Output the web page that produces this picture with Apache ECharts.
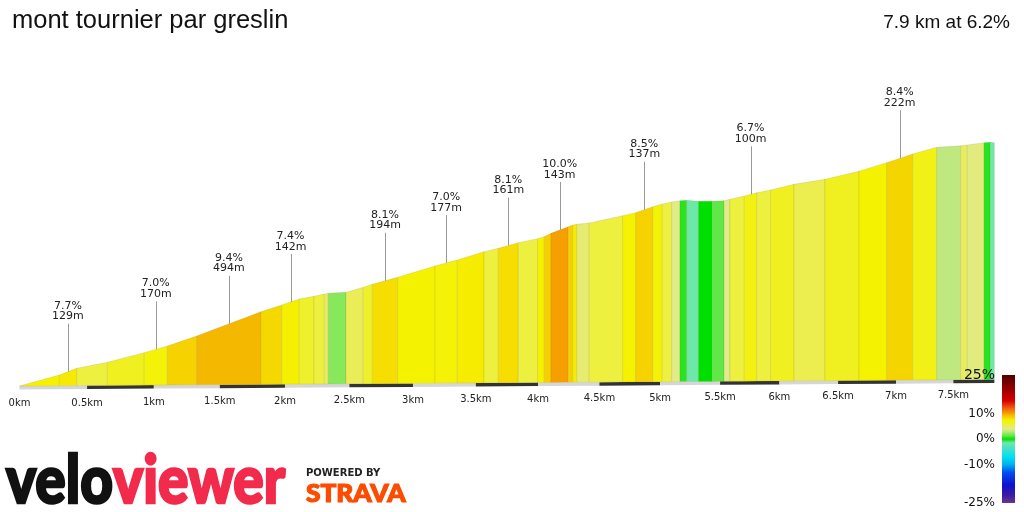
<!DOCTYPE html>
<html>
<head>
<meta charset="utf-8">
<script src="https://cdn.jsdelivr.net/npm/echarts@6/dist/echarts.min.js"></script>
<style>
html,body{margin:0;padding:0;background:#fff}
#chart{width:1024px;height:512px}
</style>
</head>
<body>
<div id="chart"></div>
<script>
// distance along the climb (km) and height above the start (m)
var distKm = [0, 0.294, 0.423, 0.651, 0.928, 1.102, 1.324, 1.815, 1.975, 2.111, 2.225, 2.305, 2.336, 2.474, 2.609, 2.680, 2.879, 3.174, 3.352, 3.565, 3.680, 3.841, 3.998, 4.051, 4.105, 4.246, 4.282, 4.315, 4.417, 4.691, 4.798, 4.939, 5.018, 5.096, 5.165, 5.221, 5.319, 5.435, 5.533, 5.583, 5.703, 5.808, 5.926, 6.124, 6.388, 6.680, 6.919, 7.145, 7.354, 7.564, 7.623, 7.770, 7.823, 7.861];
var elevM = [0, 20.1, 32.5, 43.5, 61.3, 73.8, 92.6, 138.7, 151.5, 163.0, 168.2, 172.6, 174.0, 176.0, 185.6, 191.5, 205.1, 227.3, 239.1, 255.5, 262.3, 273.5, 281.6, 285.6, 292.3, 305.5, 309.0, 310.4, 313.2, 328.1, 334.3, 346.5, 352.0, 356.2, 358.9, 359.9, 358.1, 358.6, 359.9, 362.8, 369.7, 376.6, 382.3, 394.3, 405.1, 422.4, 440.4, 458.8, 473.2, 477.2, 478.9, 484.2, 485.2, 484.5];
// gradient of each section (%)
var gradePct = [7.2, 7.7, 5.5, 6.3, 7.0, 8.5, 9.4, 8.3, 7.4, 6.0, 5.5, 4.8, 2.0, 5.0, 6.0, 8.1, 7.2, 7.0, 7.6, 5.5, 8.1, 5.5, 7.2, 8.6, 10.0, 8.6, 7.6, 4.5, 5.5, 7.2, 8.5, 7.0, 5.5, 4.0, 0.5, -1.5, 0.0, 1.2, 4.0, 5.5, 6.7, 5.5, 6.3, 5.2, 6.3, 7.2, 8.4, 6.6, 3.0, 4.8, 4.2, 0.5, -1.5];

// annotated sections
var noteKm = [0.358, 1.015, 1.570, 2.043, 2.780, 3.263, 3.760, 4.176, 4.869, 5.756, 7.032];
var noteGrade = [7.7, 7.0, 9.4, 7.4, 8.1, 7.0, 8.1, 10.0, 8.5, 6.7, 8.4];
var noteLenM = [129, 170, 494, 142, 194, 177, 161, 143, 137, 100, 222];

var tickKm = [0, 0.5, 1, 1.5, 2, 2.5, 3, 3.5, 4, 4.5, 5, 5.5, 6, 6.5, 7, 7.5];
var legendTicks = [25, 10, 0, -10, -25];

// colour scale for gradients
var gradeStops = [[-25,'#6b3590'],[-22,'#3a1ca0'],[-18,'#1010d0'],[-13,'#0050f0'],[-10,'#00b0f0'],[-7,'#00e0f0'],[-4,'#40e0d0'],[-1.5,'#6ee8a8'],[0,'#00e000'],[1.2,'#60e848'],[2,'#88e85c'],[3,'#c0e880'],[4,'#e0ec88'],[4.8,'#e8ec60'],[5.5,'#eef040'],[6.3,'#f0f020'],[7.2,'#f5f200'],[7.7,'#f5ea00'],[8.1,'#f5de00'],[8.5,'#f5d200'],[9.4,'#f5b800'],[10,'#f5a000'],[12,'#f06010'],[15,'#d80000'],[19,'#a00000'],[25,'#500000']];

// slight perspective of the 3d view
var K = 0.0123;
var PX_PER_UNIT = 136;
var TILT = 0.907;
function projX(d) { return d / (1 + K * d); }
function projE(d, e) { return e / (1 + K * d); }

function hex(c) { return [parseInt(c.substr(1,2),16), parseInt(c.substr(3,2),16), parseInt(c.substr(5,2),16)]; }
function gradeColor(g) {
    if (g <= gradeStops[0][0]) return gradeStops[0][1];
    for (var i = 1; i < gradeStops.length; i++) {
        if (g <= gradeStops[i][0]) {
            var a = gradeStops[i-1], b = gradeStops[i];
            var t = (g - a[0]) / (b[0] - a[0]);
            var ca = hex(a[1]), cb = hex(b[1]);
            return 'rgb(' + [0,1,2].map(function (k) { return Math.round(ca[k] + (cb[k]-ca[k]) * t); }).join(',') + ')';
        }
    }
    return gradeStops[gradeStops.length-1][1];
}
function elevAt(d) {
    for (var i = 1; i < distKm.length; i++) {
        if (d <= distKm[i]) {
            var t = (d - distKm[i-1]) / (distKm[i] - distKm[i-1]);
            return elevM[i-1] + (elevM[i] - elevM[i-1]) * t;
        }
    }
    return elevM[elevM.length-1];
}

var endKm = distKm[distKm.length-1];
var xMax = projX(endKm);

var segData = gradePct.map(function (g, i) {
    var d0 = distKm[i], d1 = distKm[i+1];
    return [projX(d0), projE(d0, elevM[i]), projX(d1), projE(d1, elevM[i+1]), g];
});
var stripData = [];
for (var s = 0; s * 0.5 < endKm; s++) {
    stripData.push([projX(s * 0.5), projX(Math.min(endKm, s * 0.5 + 0.5)), s % 2]);
}
var noteData = noteKm.map(function (d, i) {
    return [projX(d), projE(d, elevAt(d)), noteGrade[i], noteLenM[i]];
});
var tickData = tickKm.map(function (k) { return [projX(k), 0, k]; });

function pt(api, u, v) {
    var c = api.coord([u, v]);
    c[1] -= TILT * u;
    return c;
}

var legendGrad = gradeStops.slice().reverse().map(function (st) {
    return {offset: (25 - st[0]) / 50, color: st[1]};
});

var graphics = [
    {type: 'rect', left: 1002, top: 375, z: 10, shape: {width: 13, height: 128},
     style: {fill: new echarts.graphic.LinearGradient(0, 0, 0, 1, legendGrad)}},
    {type: 'text', x: 6, y: 482, scaleX: 0.86, z: 10,
     style: {text: '{a|velo}{b|viewer}', verticalAlign: 'middle',
             rich: {a: {fill: '#111', fontSize: 66, fontWeight: 900, fontFamily: 'Lato', stroke: '#111', lineWidth: 2.5},
                    b: {fill: '#f22a4b', fontSize: 66, fontWeight: 900, fontFamily: 'Lato', stroke: '#f22a4b', lineWidth: 2.5}}}},
    {type: 'text', x: 306, y: 473, z: 10,
     style: {text: 'POWERED BY', fill: '#222', fontSize: 10, fontWeight: 'bold', fontFamily: 'DejaVu Sans', verticalAlign: 'middle'}},
    {type: 'text', x: 306, y: 494, scaleX: 1.05, z: 10,
     style: {text: 'STRAVA', fill: '#fc4c02', fontSize: 25, fontWeight: 900, fontFamily: 'Lato', verticalAlign: 'middle',
             stroke: '#fc4c02', lineWidth: 1.2}}
];
legendTicks.forEach(function (g) {
    graphics.push({type: 'text', x: 995, y: 375 + (25 - g) / 50 * 128, z: 10,
        style: {text: g + '%', align: 'right', verticalAlign: 'middle', fill: '#111',
                fontSize: g === 25 ? 14 : 12, fontFamily: 'DejaVu Sans'}});
});

var chart = echarts.init(document.getElementById('chart'));
chart.setOption({
    animation: false,
    title: [
        {text: 'mont tournier par greslin', left: 7, top: 3,
         textStyle: {fontFamily: 'Liberation Sans', fontSize: 25.5, fontWeight: 'normal', color: '#111'}},
        {text: '7.9 km at 6.2%', right: 9, top: 8,
         textStyle: {fontFamily: 'Liberation Sans', fontSize: 19, fontWeight: 'normal', color: '#111'}}
    ],
    grid: {left: 19.5, top: 118, bottom: 126, right: 1024 - 19.5 - xMax * PX_PER_UNIT},
    xAxis: {type: 'value', min: 0, max: xMax, show: false},
    yAxis: {type: 'value', min: 0, max: 500, show: false},
    graphic: graphics,
    series: [
        {
            type: 'custom', data: stripData, silent: true,
            renderItem: function (params, api) {
                var a = pt(api, api.value(0), 0), b = pt(api, api.value(1), 0);
                return {type: 'polygon',
                    shape: {points: [a, b, [b[0], b[1] + 3.5], [a[0], a[1] + 3.5]]},
                    style: {fill: api.value(2) ? '#333' : '#d6d6d6'}};
            }
        },
        {
            type: 'custom', data: segData, silent: true,
            renderItem: function (params, api) {
                var u0 = api.value(0), u1 = api.value(2);
                return {type: 'polygon',
                    shape: {points: [pt(api, u0, 0), pt(api, u0, api.value(1)), pt(api, u1, api.value(3)), pt(api, u1, 0)]},
                    style: {fill: gradeColor(api.value(4)), stroke: 'rgba(110,100,0,0.22)', lineWidth: 0.6}};
            }
        },
        {
            type: 'custom', data: noteData, silent: true,
            renderItem: function (params, api) {
                var top = pt(api, api.value(0), api.value(1));
                var x = Math.round(top[0]) + 0.5;
                return {type: 'group', children: [
                    {type: 'line', shape: {x1: x, y1: top[1], x2: x, y2: top[1] - 48},
                     style: {stroke: '#999', lineWidth: 1}},
                    {type: 'text', x: top[0], y: top[1] - 50,
                     style: {text: api.value(2).toFixed(1) + '%\n' + api.value(3) + 'm',
                             align: 'center', verticalAlign: 'bottom', fontSize: 11, lineHeight: 10.5,
                             fontFamily: 'DejaVu Sans', fill: '#222'}}
                ]};
            }
        },
        {
            type: 'custom', data: tickData, silent: true,
            renderItem: function (params, api) {
                var u = api.value(0);
                var c = pt(api, u, 0);
                return {type: 'text', x: c[0], y: c[1] + 17.5 - 0.25 * u,
                    style: {text: api.value(2) + 'km', align: 'center', verticalAlign: 'middle',
                            fontSize: 10, fontFamily: 'DejaVu Sans', fill: '#222'}};
            }
        }
    ]
});
</script>
</body>
</html>
